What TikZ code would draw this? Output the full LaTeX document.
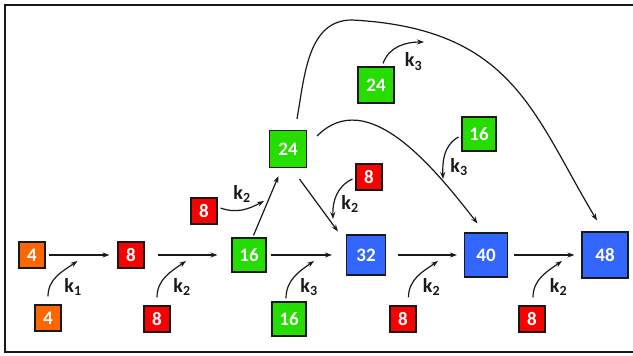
\documentclass[tikz,border=0pt]{standalone}
\usepackage{fontspec}
\setmainfont{Carlito}
\usepackage{tikz}
\usetikzlibrary{arrows.meta}
\definecolor{myorange}{RGB}{255,102,0}
\definecolor{myred}{RGB}{250,0,0}
\definecolor{mygreen}{RGB}{38,221,0}
\definecolor{myblue}{RGB}{51,102,255}
\definecolor{mydark}{RGB}{25,25,25}
\tikzset{
  box/.style={rectangle, draw=mydark, line width=1.1pt, text=white,
    inner sep=0pt, font=\bfseries\fontsize{19}{19}\selectfont},
  orangebox/.style={box, fill=myorange, minimum size=26pt},
  redbox/.style={box, fill=myred, minimum size=26pt},
  greenbox/.style={box, fill=mygreen, minimum size=34pt},
  bluebox/.style={box, fill=myblue, minimum size=40pt},
  arrow/.style={-{Stealth[length=7pt, width=5pt]}, line width=1.2pt, color=mydark},
  klabel/.style={font=\bfseries\fontsize{20}{20}\selectfont, text=mydark, inner sep=0pt}
}

\begin{document}
\begin{tikzpicture}[x=1pt, y=1pt]
  \useasboundingbox (0,0) rectangle (633,356);
  % Frame (open on the right)
  \draw[line width=2pt, color=mydark] (636,351) -- (5,351) -- (5,4) -- (636,4);

  % Main chain
  \node[orangebox] (mfour) at (32,101) {4};
  \node[redbox] (meight) at (131,101) {8};
  \node[greenbox] (msixteen) at (249,101) {16};
  \node[bluebox, minimum width=39pt, minimum height=40pt] (mthirtytwo) at (366,101) {32};
  \node[bluebox, minimum width=43pt, minimum height=44pt] (mforty) at (486,101) {40};
  \node[bluebox, minimum size=46pt] (mfortyeight) at (605,101) {48};

  % Blocks added from below
  \node[orangebox] (afour) at (48,38) {4};
  \node[redbox] (aeight) at (157,37) {8};
  \node[greenbox] (asixteen) at (289,37) {16};
  \node[redbox] (beight) at (403,37) {8};
  \node[redbox] (ceight) at (532,37) {8};

  % Upper blocks
  \node[greenbox, minimum size=37pt] (mtwentyfour) at (288,207) {24};
  \node[redbox] (leight) at (204,145) {8};
  \node[redbox] (reight) at (369,179) {8};
  \node[greenbox, minimum size=36pt] (ttwentyfour) at (376,271) {24};
  \node[greenbox] (rsixteen) at (479,222) {16};

  % Forward path
  \draw[arrow, shorten <=3pt, shorten >=8pt] (mfour) -- (meight);
  \draw[arrow, shorten <=13pt, shorten >=14pt] (meight) -- (msixteen);
  \draw[arrow, shorten <=4pt, shorten >=14pt] (msixteen) -- (mthirtytwo);
  \draw[arrow, shorten <=12pt, shorten >=7pt] (mthirtytwo) -- (mforty);
  \draw[arrow, shorten <=6pt, shorten >=7pt] (mforty) -- (mfortyeight);

  % Branch through the upper 24
  \coordinate (toparc) at (352,336);
  \draw[arrow] ([xshift=4.5pt, yshift=2pt]msixteen.north) -- ([xshift=-9.5pt, yshift=-8pt]mtwentyfour.south);
  \draw[arrow] ([xshift=11.5pt, yshift=-11pt]mtwentyfour.south) -- ([xshift=-8pt, yshift=3pt]mthirtytwo.north west);
  \draw[arrow] ([xshift=10pt, yshift=-6pt]mtwentyfour.north east) to[out=45, in=128] ([xshift=-8.5pt, yshift=9pt]mforty.north);
  \draw[arrow] ([xshift=9pt, yshift=11pt]mtwentyfour.north) to[out=80, in=180] (toparc)
    to[out=-3, in=121, out looseness=1.3] ([xshift=-8pt, yshift=11pt]mfortyeight.north);

  % Rate inputs from below
  \coordinate (kone) at (77.5,95);
  \coordinate (ktwoa) at (186,95);
  \coordinate (kthreea) at (314,95);
  \coordinate (ktwob) at (438,95);
  \coordinate (ktwoc) at (562,95);
  \draw[arrow] ([yshift=8pt]afour.north) to[out=90, in=215] (kone);
  \draw[arrow] ([yshift=8pt]aeight.north) to[out=90, in=215] (ktwoa);
  \draw[arrow] ([xshift=-3pt, yshift=3pt]asixteen.north) to[out=90, in=215] (kthreea);
  \draw[arrow] ([xshift=5.5pt, yshift=8pt]beight.north) to[out=90, in=215] (ktwob);
  \draw[arrow] ([xshift=1pt, yshift=8pt]ceight.north) to[out=90, in=215] (ktwoc);
  \node[klabel] (lone) at (73,69) {k\textsubscript{1}};
  \node[klabel] (ltwoa) at (182,69) {k\textsubscript{2}};
  \node[klabel] (lthreea) at (309,69) {k\textsubscript{3}};
  \node[klabel] (ltwob) at (431.5,69) {k\textsubscript{2}};
  \node[klabel] (ltwoc) at (558.5,69) {k\textsubscript{2}};

  % Rate inputs on the branches
  \coordinate (ktwol) at (264,155);
  \coordinate (ktwor) at (333,137);
  \coordinate (kthreer) at (443,177);
  \coordinate (kthreet) at (424,314);
  \draw[arrow] ([xshift=3pt, yshift=3pt]leight.east) to[out=-20, in=208] (ktwol);
  \draw[arrow] ([xshift=-3pt, yshift=-2pt]reight.west) to[out=205, in=92] (ktwor);
  \draw[arrow] ([xshift=-3pt, yshift=-3pt]rsixteen.west) to[out=210, in=92] (kthreer);
  \draw[arrow] ([xshift=7pt, yshift=3pt]ttwentyfour.north) to[out=70, in=180] (kthreet);
  \node[klabel] (ltwol) at (242,162) {k\textsubscript{2}};
  \node[klabel] (ltwor) at (350,152) {k\textsubscript{2}};
  \node[klabel] (lthreer) at (459,189) {k\textsubscript{3}};
  \node[klabel] (lthreet) at (413.5,294.5) {k\textsubscript{3}};
\end{tikzpicture}
\end{document}
